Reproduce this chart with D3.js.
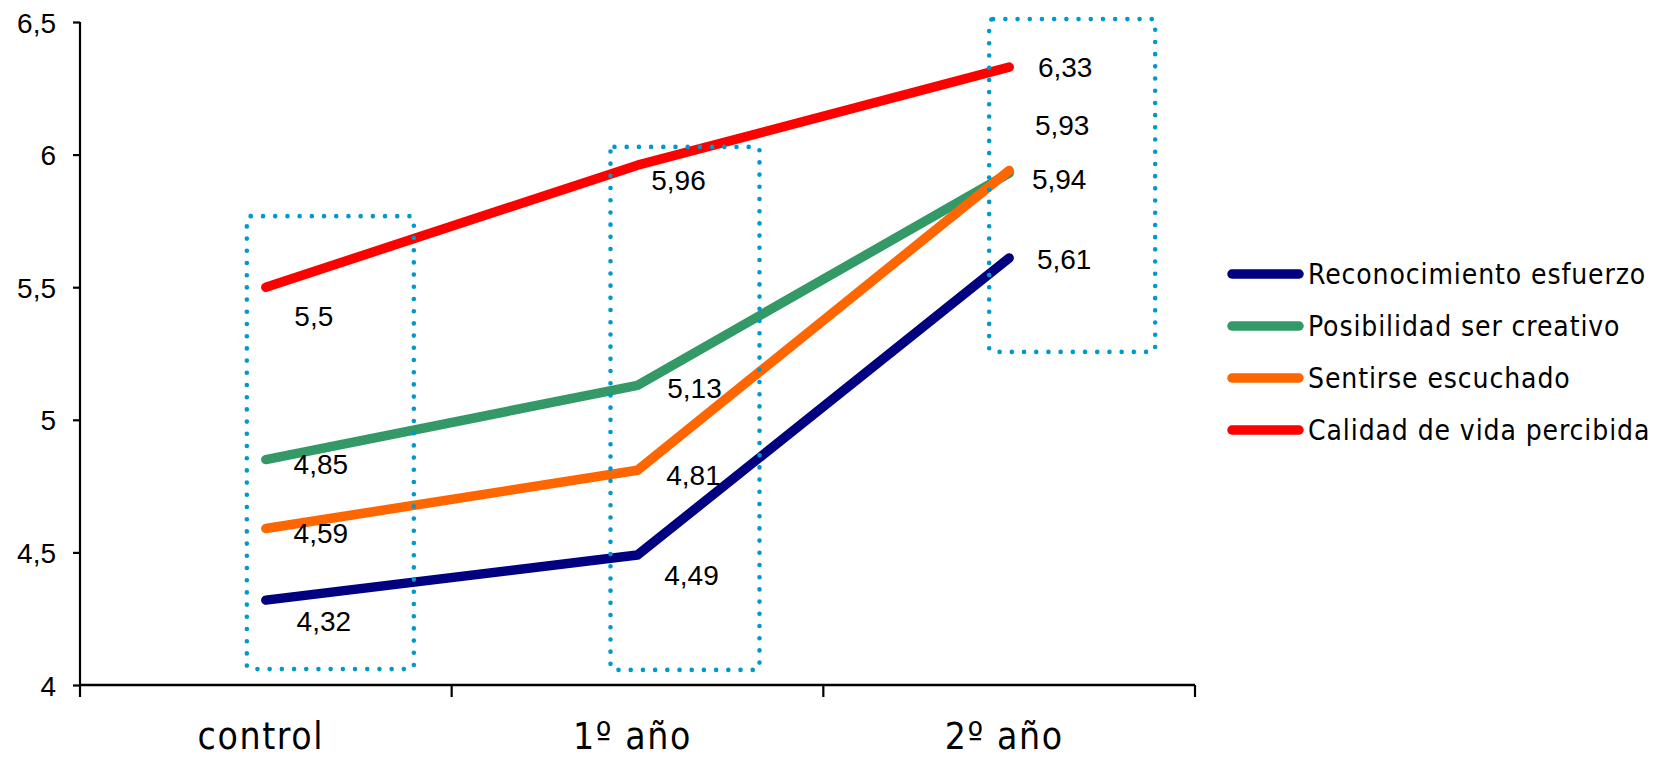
<!DOCTYPE html>
<html>
<head>
<meta charset="utf-8">
<script src="https://cdn.jsdelivr.net/npm/d3@7"></script>
<style>
  html, body { margin: 0; padding: 0; background: #fff; }
  svg { display: block; }
</style>
</head>
<body>
<svg id="chart" width="1663" height="760"></svg>
<script>
// ---- data ----
const categories = ["control", "1º año", "2º año"];
const seriesNames = ["Reconocimiento esfuerzo", "Posibilidad ser creativo", "Sentirse escuchado", "Calidad de vida percibida"];
const reconocimiento = [4.32, 4.49, 5.61];
const posibilidad = [4.85, 5.13, 5.93];
const sentirse = [4.59, 4.81, 5.94];
const calidad = [5.5, 5.96, 6.33];
const yTicks = [4, 4.5, 5, 5.5, 6, 6.5];
const yTickLabels = ["4", "4,5", "5", "5,5", "6", "6,5"];
const labelText = v => String(v).replace(".", ",");

// ---- styles / layout ----
const colors = ["#000080", "#339966", "#FF6600", "#FF0000"];
const allSeries = [reconocimiento, posibilidad, sentirse, calidad];
// label offsets (px) relative to the point, per series per category
const labelOffsets = [
  [[58, 21], [54, 20], [55, 1]],
  [[55, 4], [57, 3], [53, -48]],
  [[55, 4], [56, 5], [50, 8]],
  [[48, 29], [41, 15], [56, 0]]
];
// highlight boxes: category, value range, x offset from band centre, width
const boxCats = ["control", "1º año", "2º año"];
const boxTop = [5.768, 6.029, 6.511];
const boxBottom = [4.06, 4.057, 5.256];
const boxDx = [-19, -27, -20];
const boxW = [167, 149, 166];

const svg = d3.select("#chart");
const x0 = 80, x1 = 1195, yTop = 22, yBot = 685;

const x = d3.scaleBand().domain(categories).range([x0, x1]).padding(0);
const xc = c => x(c) + x.bandwidth() / 2;
const y = d3.scaleLinear().domain([4, 6.5]).range([yBot, yTop]);

// Y axis
const yAxis = d3.axisLeft(y).tickValues(yTicks).tickSize(7).tickPadding(17)
  .tickFormat((d, i) => yTickLabels[i]);
const gy = svg.append("g").attr("transform", `translate(${x0},0)`).call(yAxis);
gy.select(".domain").attr("d", `M0,${yTop}V${yBot + 12}`).attr("stroke", "#000").attr("stroke-width", 2.2);
gy.selectAll(".tick line").attr("stroke", "#000").attr("stroke-width", 2.2);
gy.selectAll(".tick text").attr("font-family", "'Liberation Sans', Arial, sans-serif")
  .attr("font-size", 28).attr("fill", "#000").attr("dy", "0.36em");

// X axis
const xAxis = d3.axisBottom(x).tickSize(0).tickPadding(0).tickFormat("");
const gx = svg.append("g").attr("transform", `translate(0,${yBot})`).call(xAxis);
gx.select(".domain").attr("d", `M${x0},0H${x1}`).attr("stroke", "#000").attr("stroke-width", 2.6);
gx.selectAll(".tick line").remove();
// boundary ticks between categories
const bounds = categories.map(c => x(c) + x.bandwidth());
gx.selectAll(".bt").data(bounds).enter().append("line")
  .attr("x1", d => d).attr("x2", d => d).attr("y1", 0).attr("y2", 12)
  .attr("stroke", "#000").attr("stroke-width", 2.2);
// category labels
svg.append("g").selectAll("text").data(categories).enter().append("text")
  .attr("x", d => xc(d) - 5).attr("y", 749)
  .attr("text-anchor", "middle")
  .attr("font-family", "'DejaVu Sans Condensed', 'DejaVu Sans', sans-serif")
  .attr("font-size", 37).attr("letter-spacing", 1.6).attr("fill", "#000")
  .text(d => d);

// lines
const line = d3.line().x((d, i) => xc(categories[i])).y(d => y(d));
svg.append("g").selectAll("path").data(allSeries).enter().append("path")
  .attr("d", d => line(d)).attr("fill", "none")
  .attr("stroke", (d, i) => colors[i]).attr("stroke-width", 9.5)
  .attr("stroke-linecap", "round").attr("stroke-linejoin", "round");

// dotted boxes
svg.append("g").selectAll("rect").data(boxCats).enter().append("rect")
  .attr("x", (d, i) => xc(d) + boxDx[i])
  .attr("y", (d, i) => y(boxTop[i]))
  .attr("width", (d, i) => boxW[i])
  .attr("height", (d, i) => y(boxBottom[i]) - y(boxTop[i]))
  .attr("rx", 4)
  .attr("fill", "none").attr("stroke", "#0099CC").attr("stroke-width", 4.6)
  .attr("stroke-dasharray", "0 12.2").attr("stroke-linecap", "round");

// data labels
const lg = svg.append("g");
allSeries.forEach((s, si) => {
  s.forEach((v, ci) => {
    const off = labelOffsets[si][ci];
    lg.append("text")
      .attr("x", xc(categories[ci]) + off[0])
      .attr("y", y(v) + off[1])
      .attr("dy", "0.36em")
      .attr("text-anchor", "middle")
      .attr("font-family", "'Liberation Sans', Arial, sans-serif")
      .attr("font-size", 28).attr("fill", "#000")
      .text(labelText(v));
  });
});

// legend
const legend = svg.append("g").attr("transform", "translate(1232,274)");
seriesNames.forEach((n, i) => {
  const g = legend.append("g").attr("transform", `translate(0,${i * 52})`);
  g.append("line").attr("x1", 0).attr("x2", 67).attr("y1", 0).attr("y2", 0)
    .attr("stroke", colors[i]).attr("stroke-width", 9.5).attr("stroke-linecap", "round");
  g.append("text").attr("x", 76).attr("y", 0).attr("dy", "0.36em")
    .attr("font-family", "'DejaVu Sans Condensed', 'DejaVu Sans', sans-serif")
    .attr("font-size", 28).attr("letter-spacing", 0.9).attr("fill", "#000").text(n);
});
</script>
</body>
</html>
